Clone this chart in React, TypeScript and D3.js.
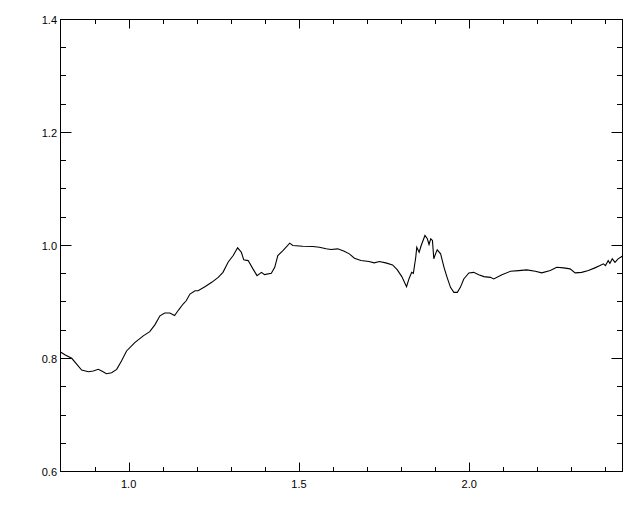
import React from "react";
import * as d3 from "d3";

// spectrum
const wave = [
  0.8, 0.814, 0.833, 0.848, 0.862, 0.882, 0.896, 0.911, 0.921, 0.935, 0.95, 0.965, 0.979, 0.994,
  1.018, 1.043, 1.062, 1.077, 1.092, 1.106, 1.121, 1.135, 1.147, 1.16, 1.169, 1.18, 1.195, 1.204,
  1.224, 1.244, 1.263, 1.277, 1.292, 1.307, 1.32, 1.331, 1.338, 1.351, 1.365, 1.377, 1.39, 1.399,
  1.419, 1.429, 1.438, 1.453, 1.473, 1.482, 1.511, 1.541, 1.56, 1.58, 1.594, 1.614, 1.633, 1.648,
  1.663, 1.682, 1.706, 1.721, 1.736, 1.755, 1.775, 1.789, 1.802, 1.816, 1.823, 1.831, 1.836, 1.843,
  1.846, 1.853, 1.859, 1.87, 1.877, 1.882, 1.887, 1.892, 1.896, 1.901, 1.906, 1.916, 1.926, 1.935,
  1.945, 1.955, 1.965, 1.974, 1.984, 1.999, 2.013, 2.028, 2.043, 2.062, 2.072, 2.096, 2.121, 2.145,
  2.169, 2.194, 2.213, 2.238, 2.257, 2.277, 2.296, 2.311, 2.33, 2.35, 2.369, 2.384, 2.394, 2.4,
  2.408, 2.413, 2.42, 2.428, 2.437, 2.449,
];
const ratio = [
  0.8116, 0.8062, 0.8004, 0.7897, 0.7796, 0.7765, 0.7778, 0.7808, 0.7778, 0.773, 0.7748, 0.7808,
  0.7956, 0.8133, 0.8281, 0.84, 0.8476, 0.8596, 0.8756, 0.8804, 0.8804, 0.8761, 0.8862, 0.8964,
  0.9022, 0.9141, 0.92, 0.92, 0.9271, 0.9348, 0.9436, 0.9525, 0.9703, 0.9822, 0.9959, 0.9881,
  0.9746, 0.9733, 0.9586, 0.9467, 0.9525, 0.9484, 0.9508, 0.9614, 0.9822, 0.9911, 1.0041, 1.0,
  0.9988, 0.9982, 0.997, 0.9941, 0.9929, 0.9941, 0.9899, 0.9852, 0.9774, 0.9733, 0.9716, 0.9692,
  0.9716, 0.9692, 0.9657, 0.9568, 0.9449, 0.9271, 0.9408, 0.9525, 0.9508, 0.9792, 0.997, 0.9881,
  1.0, 1.0178, 1.0119, 1.0018, 1.0119, 1.0089, 0.9764, 0.9852, 0.9924, 0.9852, 0.9614, 0.9436,
  0.9259, 0.917, 0.917, 0.9259, 0.9408, 0.9515, 0.9525, 0.9484, 0.9449, 0.9436, 0.9408, 0.9484,
  0.9543, 0.9556, 0.9568, 0.9543, 0.9515, 0.9556, 0.9614, 0.9604, 0.9586, 0.9515, 0.9525, 0.9556,
  0.9604, 0.9644, 0.9675, 0.9644, 0.9733, 0.9685, 0.9764, 0.9703, 0.9764, 0.981,
];

const xMajor = [1.0, 1.5, 2.0];
const xMinor = [0.9, 1.1, 1.2, 1.3, 1.4, 1.6, 1.7, 1.8, 1.9, 2.1, 2.2, 2.3, 2.4];
const yMajor = [0.6, 0.8, 1.0, 1.2, 1.4];
const yMinor = [0.65, 0.7, 0.75, 0.85, 0.9, 0.95, 1.05, 1.1, 1.15, 1.25, 1.3, 1.35];

const W = 640;
const H = 512;
const left = 60.5;
const right = 622.5;
const top = 19.5;
const bottom = 471.5;

export default function App() {
  const x = d3.scaleLinear().domain([0.8, 2.45]).range([left, right]);
  const y = d3.scaleLinear().domain([0.6, 1.4]).range([bottom, top]);

  const pts: [number, number][] = wave.map((w, i) => [w, ratio[i]]);
  const line = d3
    .line<[number, number]>()
    .x((d) => x(d[0]))
    .y((d) => y(d[1]));

  const xLen = 9;
  const yLen = 11;
  const font = { fontFamily: "Liberation Sans, Arial, sans-serif", fontSize: 11 };

  return (
    <svg
      width={W}
      height={H}
      style={{ position: "absolute", left: 0, top: 0, background: "#fff" }}
    >
      <rect x={0} y={0} width={W} height={H} fill="#fff" />
      <rect
        x={left}
        y={top}
        width={right - left}
        height={bottom - top}
        fill="none"
        stroke="#000"
        strokeWidth={1}
      />
      {xMajor.map((v) => (
        <g key={"xm" + v}>
          <line x1={Math.round(x(v)) + 0.5} x2={Math.round(x(v)) + 0.5} y1={bottom} y2={bottom - xLen} stroke="#000" />
          <line x1={Math.round(x(v)) + 0.5} x2={Math.round(x(v)) + 0.5} y1={top} y2={top + xLen} stroke="#000" />
          <text x={x(v)} y={488} textAnchor="middle" {...font}>
            {v.toFixed(1)}
          </text>
        </g>
      ))}
      {xMinor.map((v) => (
        <g key={"xn" + v}>
          <line x1={Math.round(x(v)) + 0.5} x2={Math.round(x(v)) + 0.5} y1={bottom} y2={bottom - xLen / 2} stroke="#000" />
          <line x1={Math.round(x(v)) + 0.5} x2={Math.round(x(v)) + 0.5} y1={top} y2={top + xLen / 2} stroke="#000" />
        </g>
      ))}
      {yMajor.map((v) => (
        <g key={"ym" + v}>
          <line x1={left} x2={left + yLen} y1={y(v)} y2={y(v)} stroke="#000" />
          <line x1={right} x2={right - yLen} y1={y(v)} y2={y(v)} stroke="#000" />
          <text x={57} y={y(v) + 4} textAnchor="end" {...font}>
            {v.toFixed(1)}
          </text>
        </g>
      ))}
      {yMinor.map((v) => (
        <g key={"yn" + v}>
          <line x1={left} x2={left + yLen / 2} y1={Math.round(y(v) - 0.5) + 0.5} y2={Math.round(y(v) - 0.5) + 0.5} stroke="#000" />
          <line x1={right} x2={right - yLen / 2} y1={Math.round(y(v) - 0.5) + 0.5} y2={Math.round(y(v) - 0.5) + 0.5} stroke="#000" />
        </g>
      ))}
      <path d={line(pts) ?? ""} fill="none" stroke="#000" strokeWidth={1.1} />
    </svg>
  );
}
